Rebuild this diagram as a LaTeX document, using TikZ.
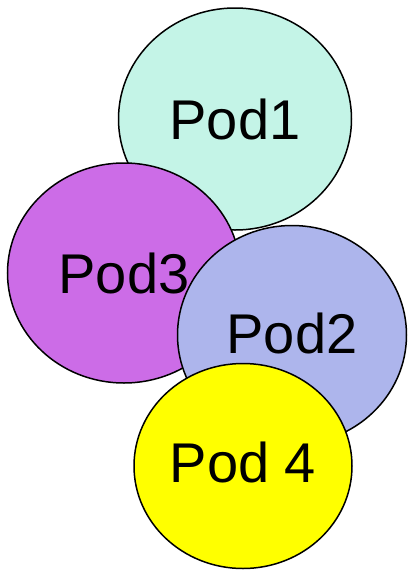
\documentclass[tikz,border=0pt]{standalone}
\usepackage{fontspec}
\setmainfont{Liberation Sans}
\usetikzlibrary{shapes.geometric}
\definecolor{podmint}{HTML}{C4F4E7}
\definecolor{podviolet}{HTML}{CC6CE7}
\definecolor{podblue}{HTML}{ADB5EC}
\definecolor{podyellow}{HTML}{FFFF00}
\begin{document}
\begin{tikzpicture}[x=1pt,y=-1pt,line width=1.5pt,
  pod/.style={ellipse,draw,inner sep=0pt},
  podlabel/.style={font=\fontsize{56}{60}\selectfont}]
\useasboundingbox (0,0) rectangle (407,570);
\node (pod1) [pod,fill=podmint,minimum width=233pt,minimum height=222pt] at (235,119) {};
\node (pod3) [pod,fill=podviolet,minimum width=233pt,minimum height=220pt] at (124,273) {};
\node (pod2) [pod,fill=podblue,minimum width=229pt,minimum height=219pt] at (292,335) {};
\node (pod4) [pod,fill=podyellow,minimum width=218pt,minimum height=205pt] at (243,466) {};
% labels on top
\node [podlabel] at (pod1) {Pod1};
\node [podlabel] at (pod3) {Pod3};
\node [podlabel] at ([yshift=2pt]pod2) {Pod2};
\node [podlabel] at ([yshift=4pt]pod4) {Pod 4};
\end{tikzpicture}
\end{document}
